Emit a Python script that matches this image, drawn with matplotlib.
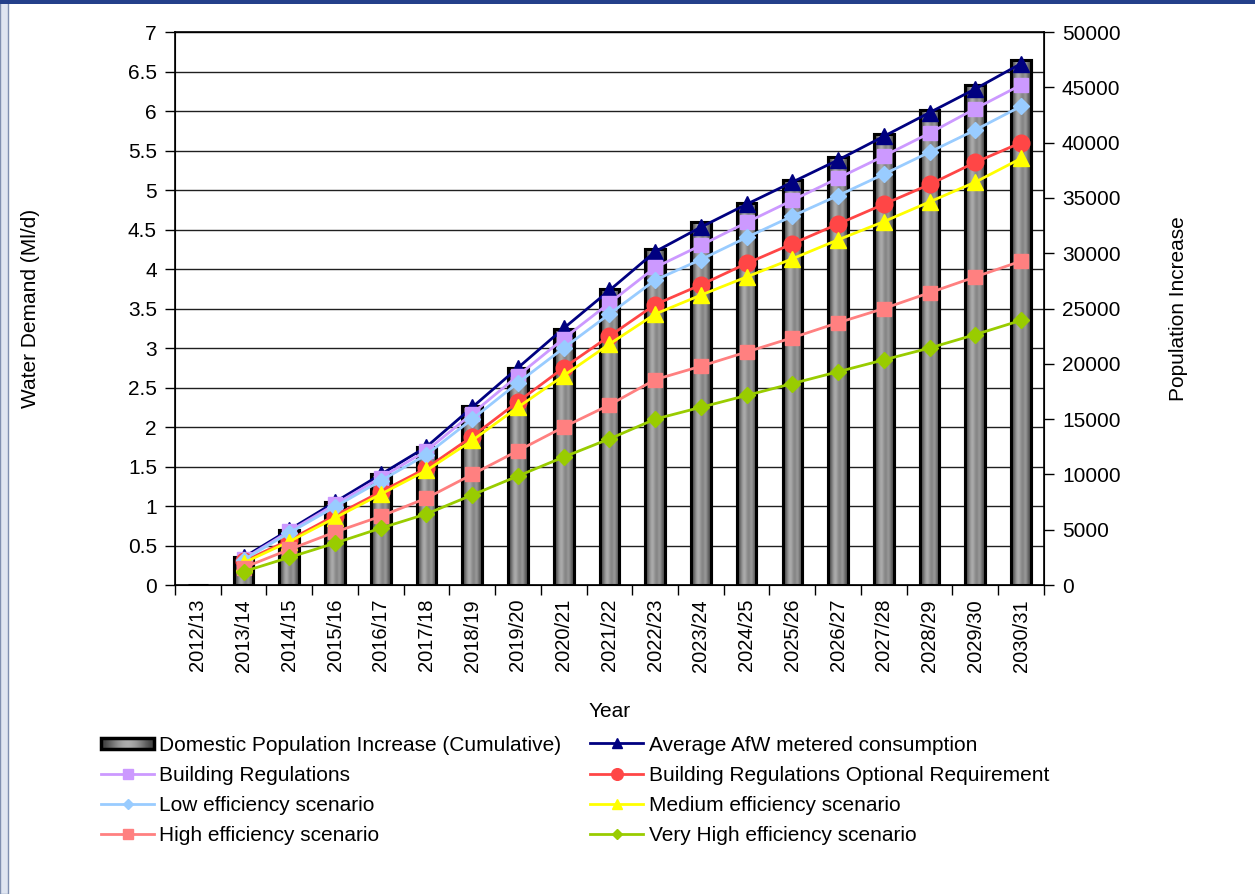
import numpy as np
import matplotlib
matplotlib.use("Agg")
import matplotlib.pyplot as plt
from matplotlib.patches import Rectangle
from matplotlib.image import BboxImage
from matplotlib.transforms import Bbox, TransformedBbox
from matplotlib.legend_handler import HandlerBase

# Data
years = ["2012/13", "2013/14", "2014/15", "2015/16", "2016/17", "2017/18",
         "2018/19", "2019/20", "2020/21", "2021/22", "2022/23", "2023/24",
         "2024/25", "2025/26", "2026/27", "2027/28", "2028/29", "2029/30",
         "2030/31"]

population = [0, 2500, 5000, 7500, 10000, 12500, 16200, 19600, 23150, 26800,
              30400, 32800, 34500, 36600, 38700, 40800, 42950, 45200, 47500]

afw = [None, 0.35, 0.70, 1.05, 1.40, 1.75, 2.25, 2.75, 3.25, 3.73, 4.22,
       4.53, 4.82, 5.10, 5.38, 5.68, 5.98, 6.28, 6.60]
build_regs = [None, 0.33, 0.68, 1.02, 1.36, 1.70, 2.17, 2.65, 3.12, 3.57,
              4.02, 4.30, 4.59, 4.87, 5.15, 5.43, 5.72, 6.03, 6.33]
low_eff = [None, 0.32, 0.66, 0.99, 1.32, 1.65, 2.10, 2.56, 3.00, 3.43, 3.86,
           4.12, 4.40, 4.67, 4.93, 5.20, 5.48, 5.76, 6.06]
build_regs_opt = [None, 0.30, 0.57, 0.88, 1.18, 1.48, 1.88, 2.32, 2.75, 3.15,
                  3.55, 3.80, 4.07, 4.32, 4.57, 4.82, 5.07, 5.35, 5.60]
medium_eff = [None, 0.28, 0.55, 0.85, 1.15, 1.45, 1.83, 2.25, 2.65, 3.05,
              3.43, 3.67, 3.90, 4.13, 4.37, 4.60, 4.85, 5.10, 5.40]
high_eff = [None, 0.22, 0.45, 0.67, 0.87, 1.10, 1.40, 1.70, 2.00, 2.28, 2.60,
            2.77, 2.95, 3.13, 3.32, 3.50, 3.70, 3.90, 4.10]
very_high_eff = [None, 0.17, 0.35, 0.53, 0.72, 0.90, 1.14, 1.38, 1.62, 1.85,
                 2.10, 2.25, 2.40, 2.55, 2.70, 2.85, 3.00, 3.17, 3.35]

series = [
    ("Average AfW metered consumption", afw, "#000080", "^", 11),
    ("Building Regulations", build_regs, "#CC99FF", "s", 10),
    ("Building Regulations Optional Requirement", build_regs_opt, "#FF4646", "o", 12),
    ("Low efficiency scenario", low_eff, "#99CCFF", "D", 8),
    ("Medium efficiency scenario", medium_eff, "#FFFF00", "^", 11),
    ("High efficiency scenario", high_eff, "#FF8080", "s", 10),
    ("Very High efficiency scenario", very_high_eff, "#99CC00", "D", 8),
]

plt.rcParams['font.family'] = ['Liberation Sans', 'DejaVu Sans']
plt.rcParams['font.size'] = 15

# cylinder-like shading used inside the bars
shade = np.array([[0.25, 0.42, 0.62, 0.7, 0.56, 0.5, 0.64, 0.46, 0.3]])


class GradientBarHandler(HandlerBase):
    def create_artists(self, legend, orig_handle, xdescent, ydescent,
                       width, height, fontsize, trans):
        h = height * 0.7
        y0 = -ydescent + (height - h) / 2
        img = BboxImage(TransformedBbox(Bbox.from_bounds(-xdescent, y0, width, h), trans),
                        cmap="gray", norm=plt.Normalize(0, 1), interpolation="bicubic")
        img.set_data(np.array([[0.25, 0.45, 0.62, 0.7, 0.62, 0.45, 0.25]]))
        rect = Rectangle((-xdescent, y0), width, h, facecolor="none",
                         edgecolor="black", linewidth=2.5, transform=trans)
        return [img, rect]


fig = plt.figure(figsize=(12.55, 8.94), dpi=100)
fig.patches.append(Rectangle((0, 0), 0.0065, 1, transform=fig.transFigure,
                             facecolor="#dfe5f1", edgecolor="#7f8fb0", lw=1))
fig.patches.append(Rectangle((0, 0.996), 1, 0.004, transform=fig.transFigure,
                             facecolor="#24408a", edgecolor="none"))

ax = fig.add_axes([0.1394, 0.3456, 0.6924, 0.6186])
ax2 = ax.twinx()
ax3 = ax.twinx()

x = np.arange(len(years))

# left axis: gridlines only
ax.set_xlim(-0.5, len(years) - 0.5)
ax.set_ylim(0, 7)
ax.set_yticks(np.arange(0, 7.01, 0.5))
ax.set_yticklabels([f"{v:g}" for v in np.arange(0, 7.01, 0.5)])
ax.yaxis.grid(True, color="#202020", linewidth=1)
ax.set_axisbelow(True)
ax.set_xticks(x)
ax.set_xticklabels(years, rotation=90, fontsize=14.5)
ax.set_xticks(np.arange(-0.5, len(years)), minor=True)
ax.tick_params(axis="x", which="major", length=0, pad=10)
ax.tick_params(axis="x", which="minor", length=7, width=1)
ax.tick_params(axis="y", length=7, width=1, pad=6)
ax.set_ylabel("Water Demand (Ml/d)")
ax.yaxis.set_label_coords(-0.155, 0.5)
ax.set_xlabel("Year")
ax.xaxis.set_label_coords(0.5, -0.2115)
for s in ax.spines.values():
    s.set_linewidth(1.2)

# right axis: population bars with shading
bars = ax2.bar(x, population, width=0.43, facecolor="#808080",
               edgecolor="black", linewidth=2.2, zorder=2,
               label="Domestic Population Increase (Cumulative)")
for b in bars:
    if b.get_height() <= 0:
        continue
    im = ax2.imshow(shade, cmap="gray", vmin=0, vmax=1, aspect="auto",
                    interpolation="bicubic", zorder=2.5,
                    extent=(b.get_x(), b.get_x() + b.get_width(), 0, b.get_height()))
    im.set_clip_path(b)
    edge = Rectangle((b.get_x(), 0), b.get_width(), b.get_height(),
                     facecolor="none", edgecolor="black", linewidth=2.2, zorder=3)
    ax2.add_patch(edge)
ax2.set_xlim(-0.5, len(years) - 0.5)
ax2.set_ylim(0, 50000)
ax2.set_yticks(np.arange(0, 50001, 5000))
ax2.tick_params(axis="y", length=7, width=1, pad=6)
ax2.set_ylabel("Population Increase")
ax2.yaxis.set_label_coords(1.144, 0.5)

# lines on top, sharing the left scale
ax3.set_ylim(0, 7)
ax3.set_xlim(-0.5, len(years) - 0.5)
ax3.set_yticks([])
for s in ax3.spines.values():
    s.set_visible(False)
line_handles = []
for name, vals, color, marker, ms in series:
    yv = np.array([np.nan if v is None else v for v in vals], dtype=float)
    ln, = ax3.plot(x, yv, color=color, marker=marker, markersize=ms,
                   markeredgecolor=color, linewidth=2, label=name)
    line_handles.append(ln)

handles = [bars, line_handles[1], line_handles[3], line_handles[5],
           line_handles[0], line_handles[2], line_handles[4], line_handles[6]]
labels = [h.get_label() for h in handles]
fig.legend(handles, labels, ncol=2, loc="upper left",
           bbox_to_anchor=(0.0656, 0.198), frameon=False,
           handlelength=2.55, handletextpad=0.25, columnspacing=1.38,
           labelspacing=0.54, fontsize=15, markerscale=0.7,
           handler_map={type(bars): GradientBarHandler()})

fig.savefig("out.png", dpi=100)
